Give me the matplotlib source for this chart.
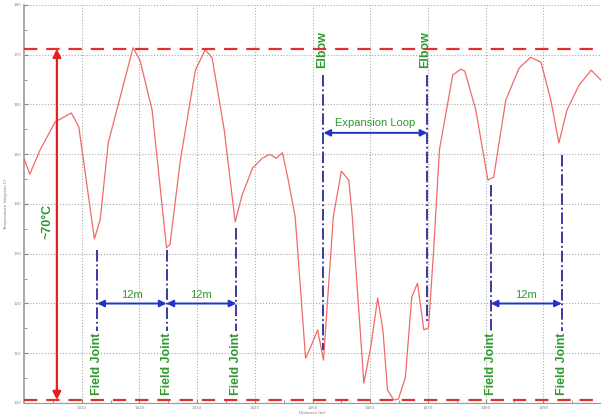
import numpy as np
import matplotlib.pyplot as plt

# temperature profile along the pipe
distance = [1400.0, 1401.0, 1402.8, 1405.4, 1408.2, 1409.5, 1412.2, 1413.2, 1414.6,
            1418.9, 1420.1, 1422.2, 1424.7, 1425.3, 1427.1, 1429.7, 1431.4, 1432.6,
            1434.7, 1436.6, 1437.8, 1439.6, 1441.3, 1442.6, 1443.7, 1444.8, 1445.8,
            1447.0, 1448.8, 1449.7, 1450.9, 1451.9, 1453.6, 1455.0, 1456.3, 1456.9,
            1458.9, 1460.1, 1461.3, 1462.2, 1463.0, 1464.1, 1464.9, 1466.1, 1467.2,
            1468.2, 1469.3, 1470.1, 1471.0, 1472.0, 1474.3, 1475.7, 1476.4, 1478.3,
            1480.4, 1481.4, 1483.5, 1485.8, 1487.8, 1489.6, 1491.3, 1492.7, 1494.1,
            1496.2, 1498.3, 1500.0]
temperature = [149.2, 146.0, 150.9, 156.5, 158.3, 155.5, 133.0, 136.8, 152.3,
               171.4, 168.9, 158.9, 131.2, 131.9, 148.8, 166.9, 171.0, 169.4,
               154.9, 136.4, 141.8, 147.2, 149.2, 150.0, 149.2, 150.3, 144.8,
               137.4, 109.0, 111.3, 114.7, 108.6, 137.4, 146.6, 144.8, 137.4,
               104.0, 111.3, 121.1, 114.7, 102.6, 100.6, 100.8, 105.2, 121.3,
               124.1, 114.7, 115.1, 130.8, 150.9, 165.9, 167.1, 166.7, 158.9,
               144.8, 145.4, 160.9, 167.3, 169.5, 168.5, 160.9, 152.3, 158.9,
               163.9, 166.9, 164.9]

t_max = 171.2
t_min = 100.6

field_joints = [1412.7, 1424.7, 1436.8, 1480.9, 1493.2]
joint_tops = [130.8, 130.8, 135.2, 143.8, 149.8]
elbows = [1451.9, 1469.9]
elbow_bottoms = [110.7, 116.1]
spans = [(0, 1), (1, 2), (3, 4)]

green = '#2f9a2f'
blue = '#2233cc'

fig = plt.figure(figsize=(6.01, 4.18), dpi=100)
ax = fig.add_axes([24 / 601, 15 / 418, 577 / 601, 398 / 418])

ax.plot(distance, temperature, color='#f06a6a', lw=0.9, zorder=3)

ax.axhline(t_max, color='#e03030', lw=1.6, ls=(0, (6, 4)), zorder=4)
ax.axhline(t_min, color='#e03030', lw=1.6, ls=(0, (6, 4)), zorder=4)

ax.annotate('', xy=(1405.7, t_max), xytext=(1405.7, t_min),
            arrowprops=dict(arrowstyle='<|-|>', color='#e62020', lw=1.6,
                            mutation_scale=12, shrinkA=0, shrinkB=0), zorder=5)
ax.text(1404.0, 136.4, '~70°C', rotation=90, color=green, fontsize=9,
        fontweight='bold', ha='center', va='center', family='Liberation Sans')

for x, top in zip(field_joints, joint_tops):
    ax.plot([x, x], [top, 114.5], color='#2a2a9a', lw=1.3, ls='-.', zorder=4)
    ax.text(x, 101.6, 'Field Joint', rotation=90, color=green, fontsize=9,
            fontweight='bold', ha='center', va='bottom', family='Liberation Sans')

for x, bot in zip(elbows, elbow_bottoms):
    ax.plot([x, x], [165.9, bot], color='#2a2a9a', lw=1.3, ls='-.', zorder=4)
    ax.text(x - 0.3, 167.3, 'Elbow', rotation=90, color=green, fontsize=9,
            fontweight='bold', ha='center', va='bottom', family='Liberation Sans')

for a, b in spans:
    x0, x1 = field_joints[a], field_joints[b]
    ax.annotate('', xy=(x0, 120), xytext=(x1, 120),
                arrowprops=dict(arrowstyle='<|-|>', color=blue, lw=1.4,
                                mutation_scale=10, shrinkA=0, shrinkB=0), zorder=5)
    ax.text((x0 + x1) / 2, 120.8, '12m', color=green, fontsize=8,
            ha='center', va='bottom', family='Liberation Sans')

ax.annotate('', xy=(elbows[0], 154.3), xytext=(elbows[1], 154.3),
            arrowprops=dict(arrowstyle='<|-|>', color=blue, lw=1.4,
                            mutation_scale=10, shrinkA=0, shrinkB=0), zorder=5)
ax.text(sum(elbows) / 2, 155.3, 'Expansion Loop', color=green, fontsize=8,
        ha='center', va='bottom', family='Liberation Sans')

ax.set_xlim(1400, 1500)
ax.set_ylim(100, 180)
ax.set_xticks(np.arange(1410, 1500, 10))
ax.set_xticks(np.arange(1405, 1500, 10), minor=True)
ax.set_yticks(np.arange(100, 181, 10))
ax.set_yticks(np.arange(105, 180, 10), minor=True)
ax.tick_params(which='both', direction='in', labelsize=3, colors='#888888', pad=2)
ax.tick_params(which='major', length=3)
ax.tick_params(which='minor', length=2)
ax.grid(True, which='major', color='#aaaaaa', ls=':', lw=0.8)
ax.set_xlabel('Distance (m)', fontsize=3, color='#777777', labelpad=1)
ax.set_ylabel('Temperature (degrees C)', fontsize=3, color='#777777', labelpad=4)
for s in ['top', 'right']:
    ax.spines[s].set_visible(False)
ax.spines['left'].set_color('#999999')
ax.spines['left'].set_linewidth(1.2)
ax.spines['bottom'].set_color('#999999')

fig.savefig('out.png', dpi=100)
